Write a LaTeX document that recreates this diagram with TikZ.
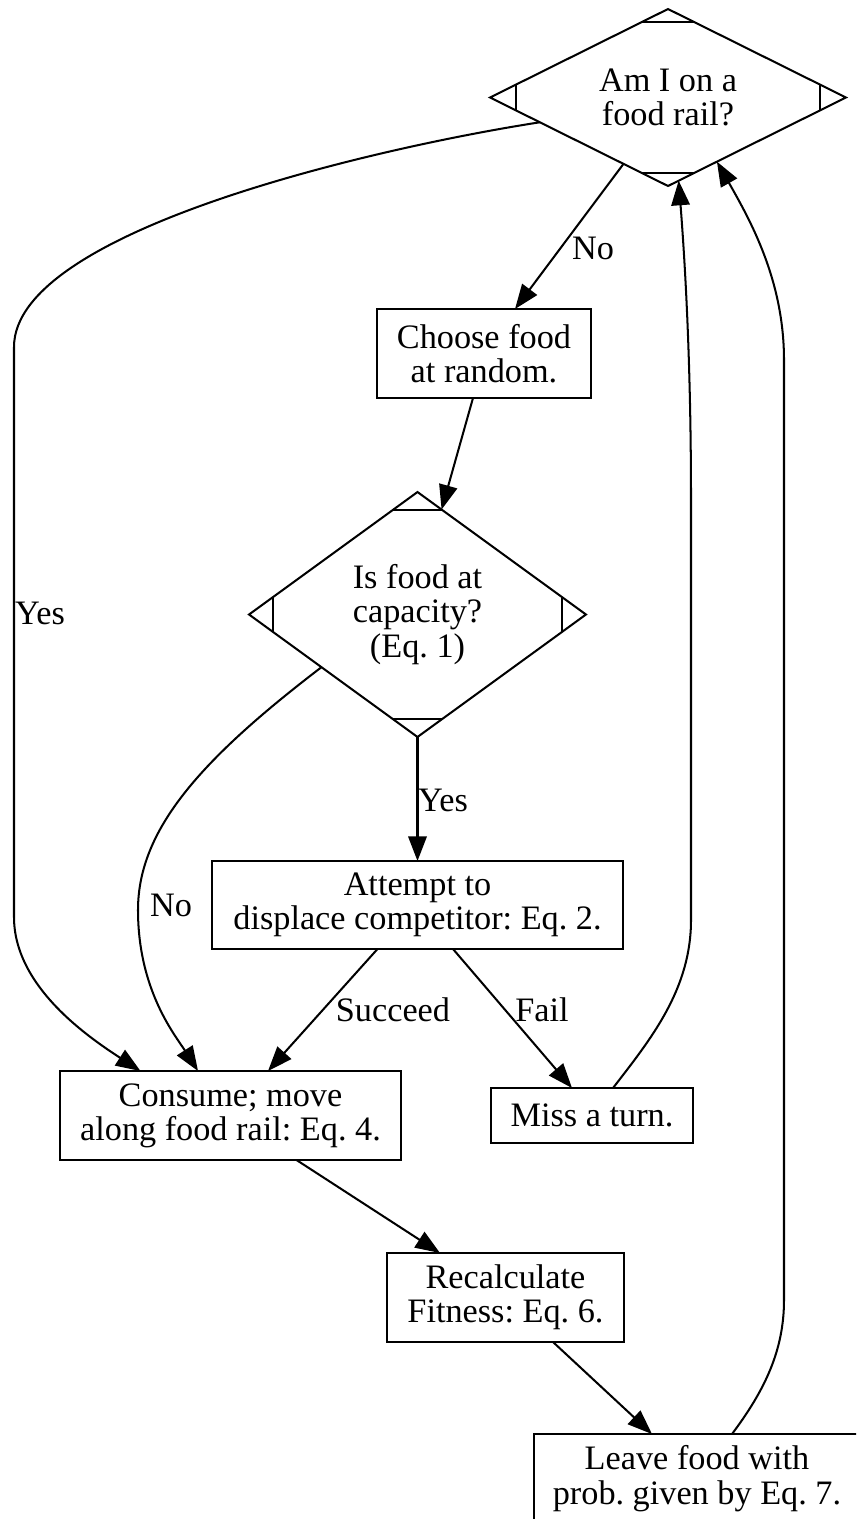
\documentclass[tikz,border=0pt]{standalone}
\usepackage{fontspec}
\setmainfont{Liberation Serif}
\usetikzlibrary{shapes.geometric,arrows.meta,calc}
\begin{document}
\frenchspacing
\begin{tikzpicture}[x=0.02cm,y=-0.02cm,
  every node/.style={font=\frenchspacing\fontsize{19.5}{19.5}\selectfont, inner sep=0pt, outer sep=0pt},
  box/.style={draw, line width=1.15pt, rectangle, align=center},
  dia/.style={draw, line width=1.15pt, diamond, align=center},
  lab/.style={align=center},
  arr/.style={line width=1.15pt, -{Triangle[length=14pt,width=10.5pt]}},
  cut/.style={line width=1.15pt}]
\clip (0,0) rectangle (856,1519);
\fill[white] (0,0) rectangle (856,1519);

% nodes
\node[dia, aspect=2, minimum width=7.12cm, minimum height=3.54cm] (d1) at (668,97.5) {Am I on a\\food rail?};
\node[box, minimum width=4.28cm, minimum height=1.78cm] (choose) at (484,353.5) {Choose food\\at random.};
\node[dia, aspect=1.4, minimum width=6.74cm, minimum height=4.9cm] (d2) at (417.5,614.5) {Is food at\\capacity?\\(Eq. 1)};
\node[box, minimum width=8.22cm, minimum height=1.76cm] (attempt) at (417.5,905) {Attempt to\\displace competitor: Eq. 2.};
\node[box, minimum width=6.82cm, minimum height=1.78cm] (consume) at (230.5,1115.5) {Consume; move\\along food rail: Eq. 4.};
\node[box, minimum width=4.04cm, minimum height=1.1cm] (miss) at (592,1115.5) {Miss a turn.};
\node[box, minimum width=4.74cm, minimum height=1.78cm] (recalc) at (505.5,1297.5) {Recalculate\\Fitness: Eq. 6.};
\node[box, minimum width=6.64cm, minimum height=1.78cm] (leave) at (700,1478.5) {\hspace*{-0.12cm}Leave food with\\\hspace*{-0.12cm}prob. given by Eq. 7.};

% corner marks of the decision diamonds
\foreach \d/\f in {d1/0.145, d2/0.145}{
  \draw[cut] ($(\d.north)!\f!(\d.west)$) -- ($(\d.north)!\f!(\d.east)$);
  \draw[cut] ($(\d.south)!\f!(\d.west)$) -- ($(\d.south)!\f!(\d.east)$);
  \draw[cut] ($(\d.west)!\f!(\d.north)$) -- ($(\d.west)!\f!(\d.south)$);
  \draw[cut] ($(\d.east)!\f!(\d.north)$) -- ($(\d.east)!\f!(\d.south)$);
}

% labels
\node[lab] (lno1) at (593,248) {No};
\node[lab] (lyes1) at (40,613) {Yes};
\node[lab] (lyes2) at (443,800) {Yes};
\node[lab] (lno2) at (171,905) {No};
\node[lab] (lsucc) at (393,1010) {Succeed};
\node[lab] (lfail) at (542,1010) {Fail};

% connectors
\draw[arr] ($(d1.west)!0.75!(d1.south)$) -- ($(choose.north)+(31,0)$);
\draw[arr] ($(d1.west)!0.28!(d1.south)$) .. controls (380,147) and (14,230) .. (14,347)
  -- (14,917) .. controls (14,985) and (85,1035) .. ($(consume.north)+(-90,0)$);
\draw[arr] ($(choose.south)+(-11,0)$) -- ($(d2.north)!0.143!(d2.east)$);
\draw[arr] (d2.south) -- (attempt.north);
\draw[arr] ($(d2.west)!0.43!(d2.south)$) .. controls (200,760) and (138,830) .. (138,910)
  .. controls (138,990) and (175,1035) .. ($(consume.north)+(-32.5,0)$);
\draw[arr] ($(attempt.south)+(-40,0)$) -- ($(consume.north)+(37.5,0)$);
\draw[arr] ($(attempt.south)+(35.5,0)$) -- ($(miss.north)+(-20,0)$);
\draw[arr] ($(miss.north)+(21,0)$) .. controls (650,1040) and (691,990) .. (691,920)
  -- (691,500) .. controls (691,350) and (684,250) .. ($(d1.south)!0.06!(d1.east)$);
\draw[arr] ($(consume.south)+(66,0)$) -- ($(recalc.north)+(-65.5,0)$);
\draw[arr] ($(recalc.south)+(47.5,0)$) -- ($(leave.north)+(-48,0)$);
\draw[arr] ($(leave.north)+(32,0)$) .. controls (765,1390) and (784,1350) .. (784,1300)
  -- (784,360) .. controls (784,280) and (750,220) .. ($(d1.south)!0.275!(d1.east)$);
\end{tikzpicture}
\end{document}
